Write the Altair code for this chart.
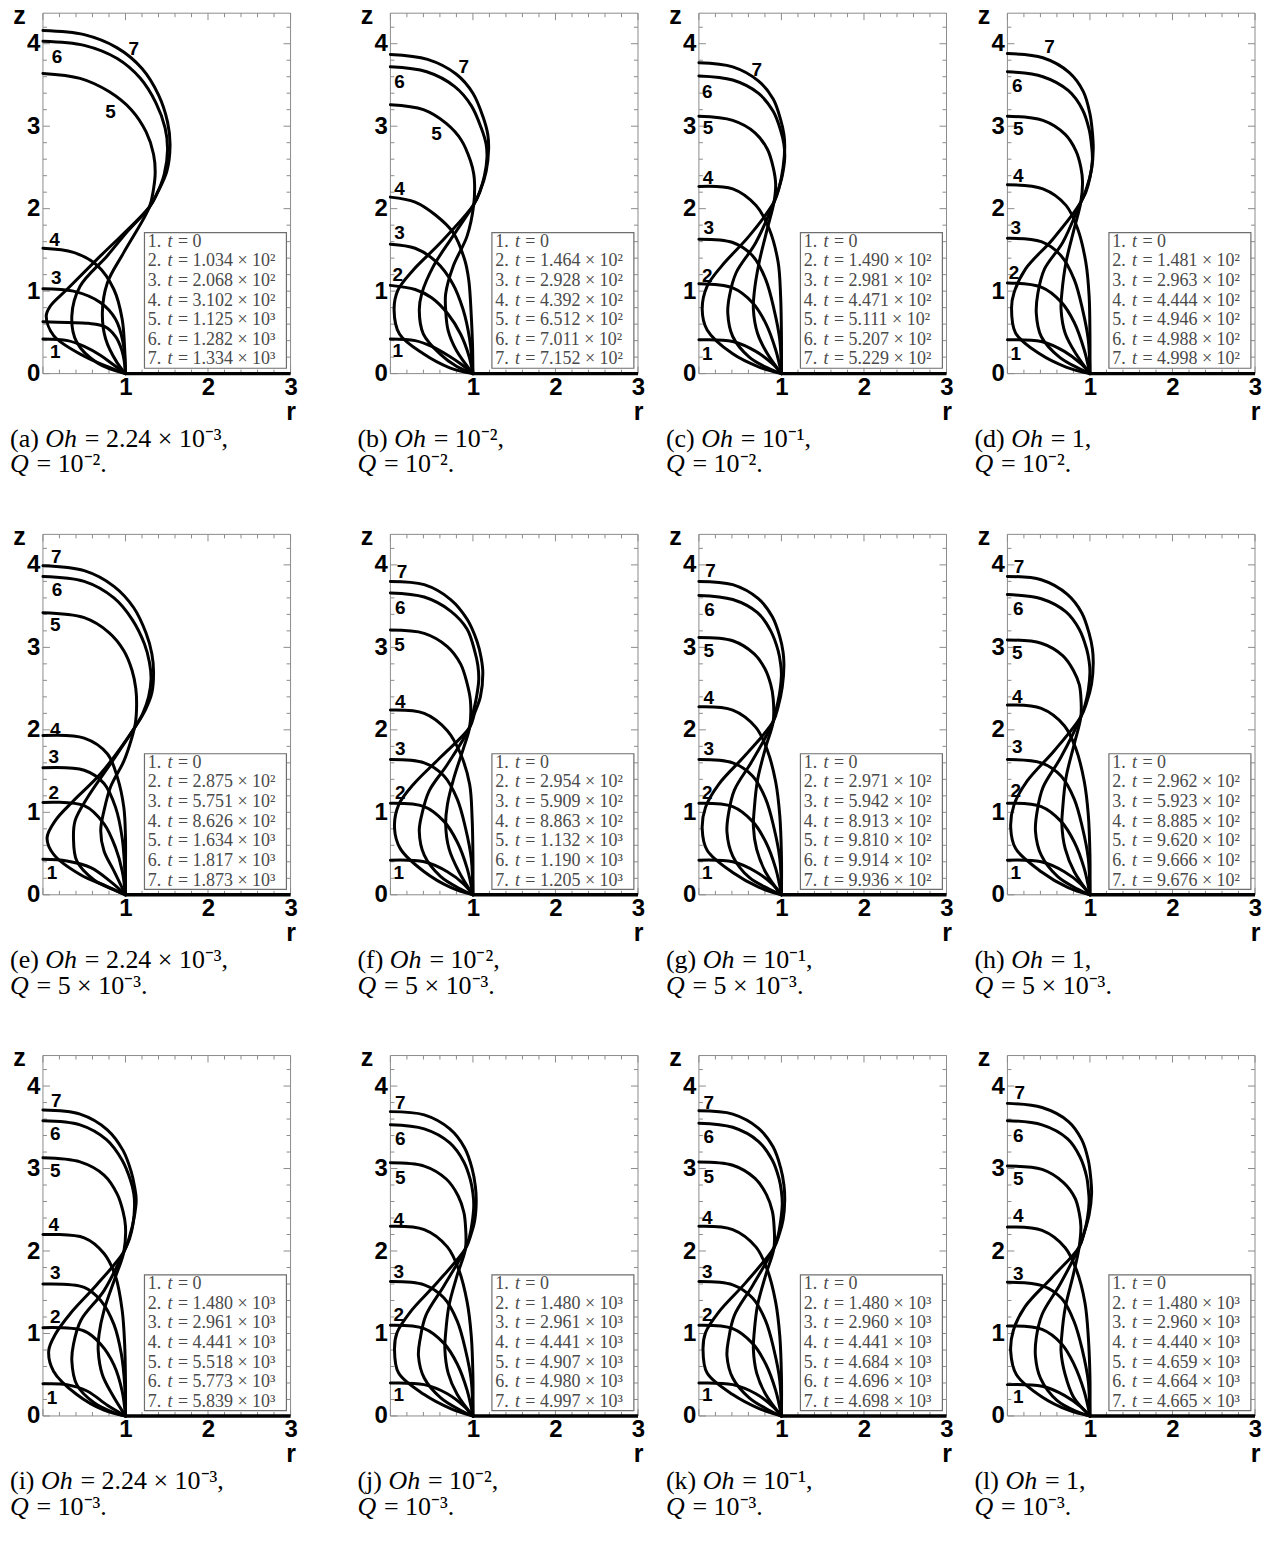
import altair as alt
import pandas as pd

W, H = 248, 361
ZMAX = 4.37

R_MAJOR = [0, 1, 2, 3]
R_MINOR = [0.2, 0.4, 0.6, 0.8, 1.2, 1.4, 1.6, 1.8, 2.2, 2.4, 2.6, 2.8]
Z_MAJOR = [0, 1, 2, 3, 4]
Z_MINOR = [0.2, 0.4, 0.6, 0.8, 1.2, 1.4, 1.6, 1.8, 2.2, 2.4, 2.6, 2.8,
           3.2, 3.4, 3.6, 3.8, 4.2]
R_LABELS = [1, 2, 3]
Z_LABELS = [0, 1, 2, 3, 4]
SUBSTRATE = [(1, 0), (3, 0)]

# ---------------- panel (a) ----------------
CURVES_A = [
    [(0, .42), (.3, .40), (.5, .33), (.7, .22), (.85, .11), (1, 0)],
    [(0, .63), (.3, .62), (.55, .61), (.75, .57), (.88, .45), (.95, .3), (.99, .12), (1, 0)],
    [(0, 1.03), (.37, 1.0), (.7, .86), (.88, .66), (.97, .38), (1, 0)],
    [(0, 1.52), (.37, 1.47), (.66, 1.31), (.86, 1.02), (.96, .66), (.99, .3), (1, 0)],
    [(0, 3.64), (.45, 3.58), (.8, 3.42), (1.07, 3.2), (1.25, 2.93), (1.34, 2.66), (1.36, 2.44),
     (1.34, 2.24), (1.29, 2.02), (.98, 1.47), (.78, 1.1), (.72, .74), (.76, .42), (.9, .13), (1, 0)],
    [(0, 4.03), (.5, 3.98), (.9, 3.82), (1.18, 3.58), (1.37, 3.28), (1.48, 2.98), (1.51, 2.72),
     (1.47, 2.42), (1.38, 2.18), (1.29, 2.02), (1.02, 1.72), (.78, 1.43), (.45, 1.06), (.35, .7),
     (.41, .38), (.66, .13), (1, 0)],
    [(0, 4.16), (.5, 4.11), (.9, 3.95), (1.2, 3.7), (1.4, 3.38), (1.51, 3.05), (1.54, 2.77),
     (1.5, 2.45), (1.39, 2.2), (1.29, 2.02), (.7, 1.43), (.29, 1.02), (.09, .82), (.04, .7),
     (.13, .46), (.5, .21), (.82, .07), (1, 0)],
]
LABELS_A = [(.15, .26), None, (.16, 1.16), (.14, 1.62), (.82, 3.17), (.17, 3.84), (1.1, 3.94)]
TIMES_A = ["0", "1.034 × 10²", "2.068 × 10²", "3.102 × 10²", "1.125 × 10³", "1.282 × 10³", "1.334 × 10³"]

# ---------------- panel (b) ----------------
CURVES_B = [
    [(0, .42), (.3, .40), (.5, .33), (.7, .22), (.85, .12), (1, 0)],
    [(0, 1.07), (.3, 1.02), (.5, .92), (.7, .72), (.85, .48), (.95, .22), (1, 0)],
    [(0, 1.57), (.3, 1.52), (.55, 1.36), (.75, 1.1), (.88, .78), (.96, .42), (1, 0)],
    [(0, 2.14), (.3, 2.08), (.55, 1.92), (.76, 1.71), (.9, 1.38), (.95, 1.13), (.98, .7), (.995, .35), (1, 0)],
    [(0, 3.26), (.4, 3.2), (.68, 3.03), (.86, 2.83), (.97, 2.58), (1.01, 2.42), (1.02, 2.3),
     (1.01, 2.05), (.93, 1.67), (.76, 1.3), (.67, .97), (.67, .77), (.7, .52), (.8, .28), (1, 0)],
    [(0, 3.72), (.44, 3.66), (.78, 3.48), (.98, 3.25), (1.1, 2.98), (1.16, 2.78), (1.17, 2.62),
     (1.14, 2.4), (1.08, 2.2), (1.01, 2.05), (.76, 1.67), (.52, 1.3), (.38, .97), (.35, .77),
     (.4, .48), (.6, .24), (.8, .09), (1, 0)],
    [(0, 3.87), (.45, 3.81), (.8, 3.63), (1.0, 3.4), (1.12, 3.12), (1.18, 2.9), (1.19, 2.72),
     (1.16, 2.45), (1.09, 2.22), (1.01, 2.05), (.6, 1.58), (.28, 1.26), (.09, 1.01), (.045, .77),
     (.11, .48), (.4, .24), (.72, .07), (1, 0)],
]
LABELS_B = [(.09, .28), (.09, 1.2), (.11, 1.71), (.11, 2.24), (.56, 2.91), (.11, 3.54), (.89, 3.72)]
TIMES_B = ["0", "1.464 × 10²", "2.928 × 10²", "4.392 × 10²", "6.512 × 10²", "7.011 × 10²", "7.152 × 10²"]

# ---------------- panel (c) ----------------
CURVES_C = [
    [(0, .41), (.41, .39), (.69, .27), (.89, .12), (1, 0)],
    [(0, 1.09), (.41, 1.04), (.65, .86), (.81, .61), (.93, .29), (1, 0)],
    [(0, 1.63), (.41, 1.59), (.65, 1.43), (.81, 1.14), (.91, .78), (.98, .41), (1, 0)],
    [(0, 2.27), (.41, 2.24), (.69, 2.04), (.85, 1.76), (.96, 1.35), (.99, .94), (1.0, .45), (1, 0)],
    [(0, 3.12), (.41, 3.07), (.68, 2.92), (.83, 2.72), (.9, 2.5), (.93, 2.3), (.91, 2.08),
     (.83, 1.76), (.73, 1.35), (.67, .98), (.66, .78), (.71, .49), (.83, .24), (1, 0)],
    [(0, 3.61), (.41, 3.56), (.72, 3.4), (.9, 3.18), (.99, 2.95), (1.03, 2.78), (1.04, 2.62),
     (1.01, 2.4), (.96, 2.22), (.91, 2.08), (.69, 1.59), (.45, 1.22), (.37, .94), (.35, .73),
     (.41, .45), (.61, .2), (.85, .06), (1, 0)],
    [(0, 3.77), (.41, 3.72), (.72, 3.55), (.9, 3.33), (.99, 3.08), (1.03, 2.9), (1.04, 2.75),
     (1.02, 2.5), (.97, 2.25), (.91, 2.08), (.61, 1.67), (.28, 1.31), (.1, 1.06), (.04, .78),
     (.1, .53), (.41, .24), (.73, .08), (1, 0)],
]
LABELS_C = [(.1, .24), (.1, 1.18), (.12, 1.76), (.11, 2.37), (.11, 2.98), (.1, 3.41), (.7, 3.68)]
TIMES_C = ["0", "1.490 × 10²", "2.981 × 10²", "4.471 × 10²", "5.111 × 10²", "5.207 × 10²", "5.229 × 10²"]

# ---------------- panel (d) ----------------
CURVES_D = [
    [(0, .41), (.41, .39), (.69, .27), (.89, .12), (1, 0)],
    [(0, 1.1), (.41, 1.05), (.65, .87), (.81, .62), (.93, .29), (1, 0)],
    [(0, 1.64), (.41, 1.6), (.65, 1.43), (.81, 1.14), (.91, .78), (.98, .41), (1, 0)],
    [(0, 2.29), (.43, 2.24), (.71, 2.04), (.85, 1.76), (.95, 1.35), (.99, .94), (1.0, .45), (1, 0)],
    [(0, 3.12), (.43, 3.07), (.7, 2.9), (.83, 2.7), (.89, 2.5), (.91, 2.33), (.89, 2.08),
     (.81, 1.76), (.71, 1.35), (.66, .98), (.65, .78), (.7, .49), (.83, .24), (1, 0)],
    [(0, 3.66), (.43, 3.6), (.74, 3.43), (.91, 3.2), (.99, 2.96), (1.02, 2.76), (1.03, 2.6),
     (1.0, 2.38), (.95, 2.2), (.89, 2.08), (.67, 1.59), (.45, 1.27), (.37, .98), (.35, .73),
     (.41, .45), (.63, .2), (.87, .06), (1, 0)],
    [(0, 3.88), (.43, 3.83), (.75, 3.65), (.92, 3.42), (1.0, 3.15), (1.03, 2.92), (1.04, 2.73),
     (1.02, 2.48), (.96, 2.25), (.89, 2.08), (.55, 1.63), (.22, 1.27), (.08, .98), (.05, .8),
     (.1, .49), (.39, .24), (.71, .08), (1, 0)],
]
LABELS_D = [(.1, .24), (.08, 1.22), (.1, 1.76), (.13, 2.39), (.13, 2.96), (.12, 3.49), (.51, 3.96)]
TIMES_D = ["0", "1.481 × 10²", "2.963 × 10²", "4.444 × 10²", "4.946 × 10²", "4.988 × 10²", "4.998 × 10²"]

# ---------------- panel (e) ----------------
CURVES_E = [
    [(0, .43), (.29, .41), (.58, .33), (.82, .16), (1, 0)],
    [(0, 1.12), (.5, 1.08), (.74, .86), (.88, .57), (.96, .29), (1, 0)],
    [(0, 1.54), (.5, 1.51), (.74, 1.35), (.88, 1.06), (.96, .69), (.99, .33), (1, 0)],
    [(0, 1.93), (.5, 1.9), (.78, 1.71), (.9, 1.43), (.98, 1.06), (1.0, .69), (1.0, .33), (1, 0)],
    [(0, 3.42), (.5, 3.36), (.8, 3.18), (.98, 2.96), (1.08, 2.72), (1.125, 2.5), (1.135, 2.3),
     (1.12, 2.08), (1.07, 1.88), (.98, 1.62), (.82, 1.31), (.74, 1.02), (.7, .78), (.74, .53),
     (.86, .29), (1, 0)],
    [(0, 3.86), (.5, 3.8), (.86, 3.6), (1.08, 3.34), (1.23, 3.04), (1.29, 2.82), (1.31, 2.62),
     (1.28, 2.4), (1.21, 2.2), (1.12, 2.04), (.82, 1.59), (.54, 1.18), (.39, .9), (.37, .69),
     (.41, .41), (.62, .18), (.86, .06), (1, 0)],
    [(0, 3.99), (.5, 3.93), (.86, 3.74), (1.1, 3.48), (1.25, 3.17), (1.32, 2.92), (1.34, 2.7),
     (1.32, 2.45), (1.24, 2.24), (1.12, 2.04), (.7, 1.47), (.37, 1.14), (.15, .9), (.05, .69),
     (.13, .49), (.46, .24), (.78, .1), (1, 0)],
]
LABELS_E = [(.11, .27), (.13, 1.24), (.13, 1.67), (.15, 2.0), (.15, 3.27), (.17, 3.69), (.16, 4.1)]
TIMES_E = ["0", "2.875 × 10²", "5.751 × 10²", "8.626 × 10²", "1.634 × 10³", "1.817 × 10³", "1.873 × 10³"]

# ---------------- panel (f) ----------------
CURVES_F = [
    [(0, .42), (.41, .4), (.69, .28), (.89, .13), (1, 0)],
    [(0, 1.11), (.41, 1.07), (.65, .89), (.81, .64), (.93, .32), (1, 0)],
    [(0, 1.64), (.41, 1.6), (.65, 1.44), (.81, 1.16), (.91, .81), (.98, .44), (1, 0)],
    [(0, 2.24), (.41, 2.2), (.69, 1.99), (.85, 1.71), (.96, 1.34), (.99, .93), (1.0, .48), (1, 0)],
    [(0, 3.21), (.41, 3.17), (.69, 3.01), (.85, 2.8), (.93, 2.56), (.97, 2.35), (.96, 2.03),
     (.89, 1.79), (.77, 1.42), (.69, 1.09), (.67, .85), (.71, .56), (.83, .28), (1, 0)],
    [(0, 3.66), (.41, 3.61), (.73, 3.44), (.93, 3.22), (1.02, 2.96), (1.06, 2.78), (1.07, 2.6),
     (1.04, 2.38), (1.0, 2.2), (.96, 2.03), (.69, 1.58), (.47, 1.26), (.38, .97), (.35, .77),
     (.41, .48), (.61, .22), (.85, .07), (1, 0)],
    [(0, 3.8), (.41, 3.76), (.73, 3.58), (.93, 3.34), (1.05, 3.07), (1.1, 2.87), (1.12, 2.69),
     (1.09, 2.4), (1.02, 2.2), (.96, 2.03), (.61, 1.67), (.28, 1.34), (.1, 1.09), (.05, .81),
     (.12, .56), (.41, .28), (.73, .09), (1, 0)],
]
LABELS_F = [(.1, .26), (.12, 1.24), (.12, 1.77), (.12, 2.34), (.11, 3.03), (.12, 3.48), (.14, 3.91)]
TIMES_F = ["0", "2.954 × 10²", "5.909 × 10²", "8.863 × 10²", "1.132 × 10³", "1.190 × 10³", "1.205 × 10³"]

# ---------------- panel (g) ----------------
CURVES_G = [
    [(0, .42), (.41, .4), (.69, .28), (.89, .13), (1, 0)],
    [(0, 1.11), (.41, 1.07), (.65, .89), (.81, .64), (.93, .32), (1, 0)],
    [(0, 1.64), (.41, 1.6), (.65, 1.44), (.81, 1.16), (.91, .81), (.98, .44), (1, 0)],
    [(0, 2.28), (.41, 2.24), (.69, 2.03), (.83, 1.75), (.93, 1.37), (.98, .96), (1.0, .47), (1, 0)],
    [(0, 3.12), (.41, 3.08), (.67, 2.92), (.8, 2.74), (.87, 2.55), (.9, 2.38), (.9, 2.1),
     (.81, 1.79), (.71, 1.39), (.67, 1.03), (.66, .83), (.7, .55), (.81, .27), (1, 0)],
    [(0, 3.63), (.41, 3.58), (.71, 3.42), (.87, 3.2), (.96, 2.96), (.99, 2.8), (1.0, 2.68),
     (.98, 2.46), (.94, 2.26), (.9, 2.1), (.65, 1.63), (.43, 1.27), (.36, .99), (.34, .76),
     (.41, .47), (.61, .21), (.85, .07), (1, 0)],
    [(0, 3.8), (.41, 3.76), (.72, 3.59), (.89, 3.37), (.98, 3.13), (1.02, 2.94), (1.03, 2.78),
     (1.01, 2.52), (.96, 2.28), (.9, 2.1), (.57, 1.7), (.24, 1.34), (.08, 1.06), (.04, .8),
     (.1, .54), (.41, .27), (.73, .09), (1, 0)],
]
LABELS_G = [(.1, .26), (.1, 1.24), (.12, 1.77), (.12, 2.38), (.12, 2.96), (.13, 3.45), (.14, 3.93)]
TIMES_G = ["0", "2.971 × 10²", "5.942 × 10²", "8.913 × 10²", "9.810 × 10²", "9.914 × 10²", "9.936 × 10²"]

# ---------------- panel (h) ----------------
CURVES_H = [
    [(0, .42), (.41, .4), (.69, .28), (.89, .13), (1, 0)],
    [(0, 1.11), (.41, 1.07), (.65, .89), (.81, .64), (.93, .32), (1, 0)],
    [(0, 1.64), (.41, 1.6), (.65, 1.44), (.81, 1.16), (.91, .81), (.98, .44), (1, 0)],
    [(0, 2.3), (.41, 2.26), (.69, 2.05), (.83, 1.77), (.93, 1.38), (.98, .97), (1.0, .48), (1, 0)],
    [(0, 3.09), (.41, 3.05), (.67, 2.9), (.8, 2.72), (.87, 2.55), (.89, 2.4), (.89, 2.16),
     (.81, 1.83), (.71, 1.42), (.67, 1.05), (.66, .85), (.7, .56), (.81, .28), (1, 0)],
    [(0, 3.64), (.41, 3.59), (.71, 3.43), (.87, 3.22), (.96, 2.98), (.99, 2.83), (1.0, 2.7),
     (.98, 2.48), (.94, 2.3), (.89, 2.16), (.65, 1.67), (.43, 1.3), (.36, 1.01), (.34, .77),
     (.41, .48), (.61, .22), (.85, .07), (1, 0)],
    [(0, 3.86), (.41, 3.82), (.73, 3.64), (.9, 3.42), (.99, 3.17), (1.03, 2.98), (1.04, 2.81),
     (1.02, 2.56), (.96, 2.33), (.89, 2.16), (.57, 1.75), (.24, 1.38), (.08, 1.09), (.04, .81),
     (.1, .56), (.41, .28), (.73, .09), (1, 0)],
]
LABELS_H = [(.1, .26), (.1, 1.26), (.12, 1.79), (.12, 2.4), (.12, 2.93), (.13, 3.46), (.14, 3.97)]
TIMES_H = ["0", "2.962 × 10²", "5.923 × 10²", "8.885 × 10²", "9.620 × 10²", "9.666 × 10²", "9.676 × 10²"]

# ---------------- panel (i) ----------------
CURVES_I = [
    [(0, .39), (.29, .38), (.54, .3), (.78, .13), (1, 0)],
    [(0, 1.07), (.5, 1.03), (.7, .87), (.86, .62), (.96, .3), (1, 0)],
    [(0, 1.6), (.5, 1.56), (.7, 1.4), (.86, 1.11), (.95, .75), (.99, .38), (1, 0)],
    [(0, 2.2), (.5, 2.16), (.74, 1.97), (.88, 1.69), (.96, 1.28), (.99, .87), (1.0, .42), (1, 0)],
    [(0, 3.13), (.45, 3.08), (.74, 2.92), (.9, 2.69), (.97, 2.48), (1.0, 2.3), (.98, 1.99),
     (.88, 1.69), (.74, 1.28), (.68, .99), (.67, .79), (.72, .5), (.84, .26), (1, 0)],
    [(0, 3.58), (.45, 3.53), (.77, 3.35), (.96, 3.1), (1.06, 2.86), (1.1, 2.7), (1.11, 2.55),
     (1.09, 2.32), (1.05, 2.15), (.98, 1.99), (.74, 1.52), (.46, 1.16), (.37, .87), (.35, .67),
     (.41, .38), (.62, .16), (.86, .04), (1, 0)],
    [(0, 3.71), (.45, 3.66), (.78, 3.47), (.97, 3.22), (1.07, 2.96), (1.11, 2.78), (1.13, 2.62),
     (1.1, 2.38), (1.05, 2.18), (.98, 1.99), (.66, 1.6), (.33, 1.24), (.15, .99), (.07, .79),
     (.13, .54), (.41, .26), (.74, .07), (1, 0)],
]
LABELS_I = [(.11, .22), (.15, 1.2), (.15, 1.73), (.13, 2.32), (.15, 2.97), (.15, 3.42), (.16, 3.82)]
TIMES_I = ["0", "1.480 × 10³", "2.961 × 10³", "4.441 × 10³", "5.518 × 10³", "5.773 × 10³", "5.839 × 10³"]

# ---------------- panel (j) ----------------
CURVES_J = [
    [(0, .4), (.41, .38), (.69, .27), (.89, .12), (1, 0)],
    [(0, 1.1), (.41, 1.06), (.65, .88), (.81, .63), (.93, .31), (1, 0)],
    [(0, 1.63), (.41, 1.59), (.65, 1.43), (.81, 1.15), (.91, .8), (.98, .43), (1, 0)],
    [(0, 2.3), (.41, 2.26), (.69, 2.05), (.83, 1.77), (.93, 1.38), (.98, .97), (1.0, .48), (1, 0)],
    [(0, 3.07), (.41, 3.03), (.68, 2.87), (.82, 2.67), (.89, 2.47), (.91, 2.3), (.91, 2.03),
     (.81, 1.71), (.71, 1.34), (.67, 1.01), (.66, .81), (.7, .52), (.81, .26), (1, 0)],
    [(0, 3.53), (.41, 3.48), (.72, 3.31), (.89, 3.08), (.97, 2.86), (1.0, 2.7), (1.01, 2.55),
     (.99, 2.34), (.96, 2.18), (.91, 2.03), (.65, 1.58), (.43, 1.22), (.36, .93), (.34, .73),
     (.41, .46), (.61, .22), (.85, .07), (1, 0)],
    [(0, 3.69), (.41, 3.65), (.72, 3.48), (.9, 3.25), (.99, 3.0), (1.03, 2.78), (1.04, 2.6),
     (1.02, 2.36), (.97, 2.18), (.91, 2.03), (.57, 1.62), (.24, 1.26), (.08, 1.01), (.05, .81),
     (.1, .52), (.41, .26), (.73, .09), (1, 0)],
]
LABELS_J = [(.1, .26), (.1, 1.22), (.1, 1.75), (.1, 2.38), (.12, 2.89), (.12, 3.36), (.12, 3.79)]
TIMES_J = ["0", "1.480 × 10³", "2.961 × 10³", "4.441 × 10³", "4.907 × 10³", "4.980 × 10³", "4.997 × 10³"]

# ---------------- panel (k) ----------------
CURVES_K = [
    [(0, .4), (.41, .38), (.69, .27), (.89, .12), (1, 0)],
    [(0, 1.1), (.41, 1.06), (.65, .88), (.81, .63), (.93, .31), (1, 0)],
    [(0, 1.63), (.41, 1.59), (.65, 1.43), (.81, 1.15), (.91, .8), (.98, .43), (1, 0)],
    [(0, 2.3), (.41, 2.26), (.69, 2.05), (.83, 1.77), (.93, 1.38), (.98, .97), (1.0, .48), (1, 0)],
    [(0, 3.08), (.41, 3.04), (.68, 2.88), (.82, 2.68), (.89, 2.48), (.91, 2.31), (.91, 2.04),
     (.81, 1.71), (.71, 1.34), (.67, 1.01), (.66, .81), (.7, .52), (.81, .26), (1, 0)],
    [(0, 3.55), (.41, 3.5), (.72, 3.33), (.89, 3.1), (.97, 2.88), (1.0, 2.72), (1.01, 2.57),
     (.99, 2.36), (.96, 2.19), (.91, 2.04), (.65, 1.58), (.43, 1.22), (.36, .93), (.34, .73),
     (.41, .46), (.61, .22), (.85, .07), (1, 0)],
    [(0, 3.7), (.41, 3.66), (.72, 3.49), (.9, 3.26), (.99, 3.01), (1.03, 2.8), (1.04, 2.62),
     (1.02, 2.38), (.97, 2.19), (.91, 2.04), (.57, 1.62), (.24, 1.26), (.08, 1.01), (.05, .81),
     (.1, .52), (.41, .26), (.73, .09), (1, 0)],
]
LABELS_K = [(.1, .26), (.1, 1.22), (.1, 1.75), (.1, 2.4), (.12, 2.9), (.12, 3.38), (.12, 3.8)]
TIMES_K = ["0", "1.480 × 10³", "2.960 × 10³", "4.441 × 10³", "4.684 × 10³", "4.696 × 10³", "4.698 × 10³"]

# ---------------- panel (l) ----------------
CURVES_L = [
    [(0, .38), (.42, .36), (.69, .25), (.89, .11), (1, 0)],
    [(0, 1.09), (.42, 1.05), (.66, .87), (.81, .62), (.93, .3), (1, 0)],
    [(0, 1.62), (.42, 1.58), (.66, 1.42), (.81, 1.14), (.91, .79), (.98, .42), (1, 0)],
    [(0, 2.29), (.42, 2.25), (.7, 2.04), (.84, 1.76), (.94, 1.37), (.98, .96), (1.0, .47), (1, 0)],
    [(0, 3.03), (.42, 2.99), (.68, 2.83), (.82, 2.64), (.87, 2.46), (.89, 2.3), (.87, 2.05),
     (.8, 1.72), (.7, 1.31), (.66, .99), (.65, .78), (.7, .5), (.8, .23), (1, 0)],
    [(0, 3.58), (.42, 3.53), (.73, 3.36), (.88, 3.14), (.96, 2.9), (.98, 2.75), (.99, 2.6),
     (.97, 2.4), (.93, 2.22), (.87, 2.05), (.64, 1.6), (.42, 1.23), (.35, .95), (.34, .72),
     (.4, .46), (.6, .19), (.85, .05), (1, 0)],
    [(0, 3.79), (.42, 3.74), (.74, 3.57), (.9, 3.35), (.98, 3.1), (1.01, 2.88), (1.02, 2.7),
     (.99, 2.44), (.93, 2.22), (.87, 2.05), (.54, 1.68), (.21, 1.32), (.07, 1.03), (.04, .78),
     (.11, .5), (.42, .23), (.74, .07), (1, 0)],
]
LABELS_L = [(.13, .23), None, (.13, 1.72), (.13, 2.42), (.13, 2.87), (.13, 3.4), (.15, 3.91)]
TIMES_L = ["0", "1.480 × 10³", "2.960 × 10³", "4.440 × 10³", "4.659 × 10³", "4.664 × 10³", "4.665 × 10³"]

CAPTION_LETTERS = ["a", "b", "c", "d", "e", "f", "g", "h", "i", "j", "k", "l"]
CAPTION_OH = ["2.24 × 10⁻³", "10⁻²", "10⁻¹", "1",
              "2.24 × 10⁻³", "10⁻²", "10⁻¹", "1",
              "2.24 × 10⁻³", "10⁻²", "10⁻¹", "1"]
CAPTION_Q = ["10⁻²", "10⁻²", "10⁻²", "10⁻²",
             "5 × 10⁻³", "5 × 10⁻³", "5 × 10⁻³", "5 × 10⁻³",
             "10⁻³", "10⁻³", "10⁻³", "10⁻³"]

PANELS = [
    (CURVES_A, LABELS_A, TIMES_A), (CURVES_B, LABELS_B, TIMES_B),
    (CURVES_C, LABELS_C, TIMES_C), (CURVES_D, LABELS_D, TIMES_D),
    (CURVES_E, LABELS_E, TIMES_E), (CURVES_F, LABELS_F, TIMES_F),
    (CURVES_G, LABELS_G, TIMES_G), (CURVES_H, LABELS_H, TIMES_H),
    (CURVES_I, LABELS_I, TIMES_I), (CURVES_J, LABELS_J, TIMES_J),
    (CURVES_K, LABELS_K, TIMES_K), (CURVES_L, LABELS_L, TIMES_L),
]

# layout / style constants
FRAME = "#8c8c8c"
SANS = "Liberation Sans"
SERIF = "Liberation Serif"
LEG_R0, LEG_R1, LEG_Z0, LEG_Z1 = 1.23, 2.95, 0.065, 1.71
LEG_TEXT_R, LEG_TOP, LEG_STEP = 1.27, 1.6, 0.238
LEG_SIZE = 18
CAP_SIZE = 26
CAP_X = -33
REL_GAP = 0.3      # em gap around "=" (math spacing)
MAJ_LEN, MIN_LEN = 7, 4
EXTRA_FIRST_COL = 39

# Times-compatible advance widths (em) used to place the italic pieces of text
SERIF_W = {"(": .333, ")": .333, " ": .25, ".": .25, "a": .444, "b": .5, "c": .444,
           "d": .5, "e": .444, "f": .333, "g": .5, "h": .5, "i": .278, "j": .278,
           "k": .5, "l": .278}
for _d in "0123456789":
    SERIF_W[_d] = .5
ITALIC_W = {"O": .722, "h": .5, "Q": .722, "t": .278}


def text_w(s, size, table):
    return sum(table[c] for c in s) * size


xs = alt.Scale(domain=[0, 3], range=[0, W], nice=False, zero=False)
ys = alt.Scale(domain=[0, ZMAX], nice=False, zero=False)
XAX = alt.Axis(values=R_LABELS, title="r", titleX=W, titleY=46, titleAngle=0,
               titleAlign="center", titleBaseline="alphabetic", titleFont=SANS,
               titleFontSize=25, titleFontWeight="bold", titleColor="black",
               labelFont=SANS, labelFontSize=24, labelFontWeight="bold", labelColor="black",
               labelPadding=2, labelFlush=False, labelOverlap=False, ticks=False,
               domain=False, grid=False, format="d")
YAX = alt.Axis(values=Z_LABELS, title="z", titleX=-24, titleY=10, titleAngle=0,
               titleAlign="center", titleBaseline="alphabetic", titleFont=SANS,
               titleFontSize=25, titleFontWeight="bold", titleColor="black",
               labelFont=SANS, labelFontSize=24, labelFontWeight="bold", labelColor="black",
               labelPadding=3, labelFlush=False, labelOverlap=False, ticks=False,
               domain=False, grid=False, format="d")


def X(field="r"):
    return alt.X(f"{field}:Q", scale=xs, axis=XAX)


def Y(field="z"):
    return alt.Y(f"{field}:Q", scale=ys, axis=YAX)


def tick_layers():
    layers = []
    for vals, ln in ((Z_MAJOR, MAJ_LEN), (Z_MINOR, MIN_LEN)):
        d = pd.DataFrame({"z": vals})
        base = alt.Chart(d).mark_rule(color=FRAME, strokeWidth=1)
        layers.append(base.encode(y=Y(), x=alt.value(0), x2=alt.value(ln)))
        layers.append(base.encode(y=Y(), x=alt.value(W), x2=alt.value(W - ln)))
    for vals, ln in ((R_MAJOR, MAJ_LEN), (R_MINOR, MIN_LEN)):
        d = pd.DataFrame({"r": vals})
        base = alt.Chart(d).mark_rule(color=FRAME, strokeWidth=1)
        layers.append(base.encode(x=X(), y=alt.value(H), y2=alt.value(H - ln)))
        layers.append(base.encode(x=X(), y=alt.value(0), y2=alt.value(ln)))
    return layers


def caption_piece(text, x, y, italic=False):
    kw = dict(font=SERIF, fontSize=CAP_SIZE, color="black", align="left", baseline="middle")
    if italic:
        kw["fontStyle"] = "italic"
    return alt.Chart(pd.DataFrame({"t": [text]})).mark_text(**kw).encode(
        x=alt.value(x), y=alt.value(y), text="t:N")


def make_panel(idx):
    curves, labels, times = PANELS[idx]
    rows = []
    for ci, pts in enumerate(curves, start=1):
        for k, (r, z) in enumerate(pts):
            rows.append({"curve": ci, "k": k, "r": r, "z": z})
    df = pd.DataFrame(rows)

    frame = alt.Chart(pd.DataFrame({"f": [0]})).mark_rect(
        fillOpacity=0, stroke=FRAME, strokeWidth=1).encode(
        x=alt.value(0), x2=alt.value(W), y=alt.value(0), y2=alt.value(H))

    lines = alt.Chart(df).mark_line(
        interpolate="catmull-rom", color="black", strokeWidth=3,
        strokeJoin="round", strokeCap="round"
    ).encode(x=X(), y=Y(), detail="curve:N", order="k:Q")

    sub = alt.Chart(pd.DataFrame(SUBSTRATE, columns=["r", "z"])).mark_line(
        color="black", strokeWidth=3.5).encode(x=X(), y=Y())

    lab_rows = [{"r": p[0], "z": p[1], "t": str(i + 1)} for i, p in enumerate(labels) if p]
    labs = alt.Chart(pd.DataFrame(lab_rows)).mark_text(
        font=SANS, fontWeight="bold", fontSize=19, color="black",
        align="center", baseline="middle").encode(x=X(), y=Y(), text="t:N")

    box = alt.Chart(pd.DataFrame([{"r": LEG_R0, "r2": LEG_R1, "z": LEG_Z0, "z2": LEG_Z1}])).mark_rect(
        fill="white", stroke="#6e6e6e", strokeWidth=1.2).encode(
        x=X(), x2="r2:Q", y=Y(), y2="z2:Q")

    # legend: "n." upright, "t" italic, "= value" upright
    dx_t = text_w("1. ", LEG_SIZE, SERIF_W) + 0.1 * LEG_SIZE
    dx_rest = dx_t + ITALIC_W["t"] * LEG_SIZE + REL_GAP * LEG_SIZE
    leg_df = pd.DataFrame([{"r": LEG_TEXT_R, "z": LEG_TOP - i * LEG_STEP,
                            "n": f"{i + 1}.", "v": f"= {v}"} for i, v in enumerate(times)])
    leg_style = dict(font=SERIF, fontSize=LEG_SIZE, color="#4a4a4a", align="left", baseline="middle")
    leg_n = alt.Chart(leg_df).mark_text(**leg_style).encode(x=X(), y=Y(), text="n:N")
    leg_t = alt.Chart(leg_df).mark_text(dx=dx_t, fontStyle="italic", **leg_style).encode(
        x=X(), y=Y(), text=alt.value("t"))
    leg_v = alt.Chart(leg_df).mark_text(dx=dx_rest, **leg_style).encode(x=X(), y=Y(), text="v:N")

    # caption: "(a)" + italic "Oh" + "= ..." / italic "Q" + "= ..."
    pre1 = f"({CAPTION_LETTERS[idx]}) "
    x1 = CAP_X + text_w(pre1, CAP_SIZE, SERIF_W)
    x2 = x1 + (ITALIC_W["O"] + ITALIC_W["h"]) * CAP_SIZE + REL_GAP * CAP_SIZE
    xq = CAP_X + ITALIC_W["Q"] * CAP_SIZE + REL_GAP * CAP_SIZE
    y1, y2 = H + 65, H + 91
    caps = [
        caption_piece(pre1.strip(), CAP_X, y1),
        caption_piece("Oh", x1, y1, italic=True),
        caption_piece(f"= {CAPTION_OH[idx]},", x2, y1),
        caption_piece("Q", CAP_X, y2, italic=True),
        caption_piece(f"= {CAPTION_Q[idx]}.", xq, y2),
    ]

    width = W + EXTRA_FIRST_COL if idx % 4 == 0 else W
    return alt.layer(frame, *tick_layers(), lines, sub, labs, box, leg_n, leg_t, leg_v,
                     *caps).properties(width=width, height=H)


charts = [make_panel(i) for i in range(12)]

chart = alt.concat(*charts, columns=4, spacing={"row": 161, "column": 61},
                   bounds="flush", align="each")
chart = chart.configure_view(strokeWidth=0).properties(
    padding={"left": 2, "top": -6, "right": 4, "bottom": 4})

chart.save("out.html", embed_options={"renderer": "svg", "actions": False})
